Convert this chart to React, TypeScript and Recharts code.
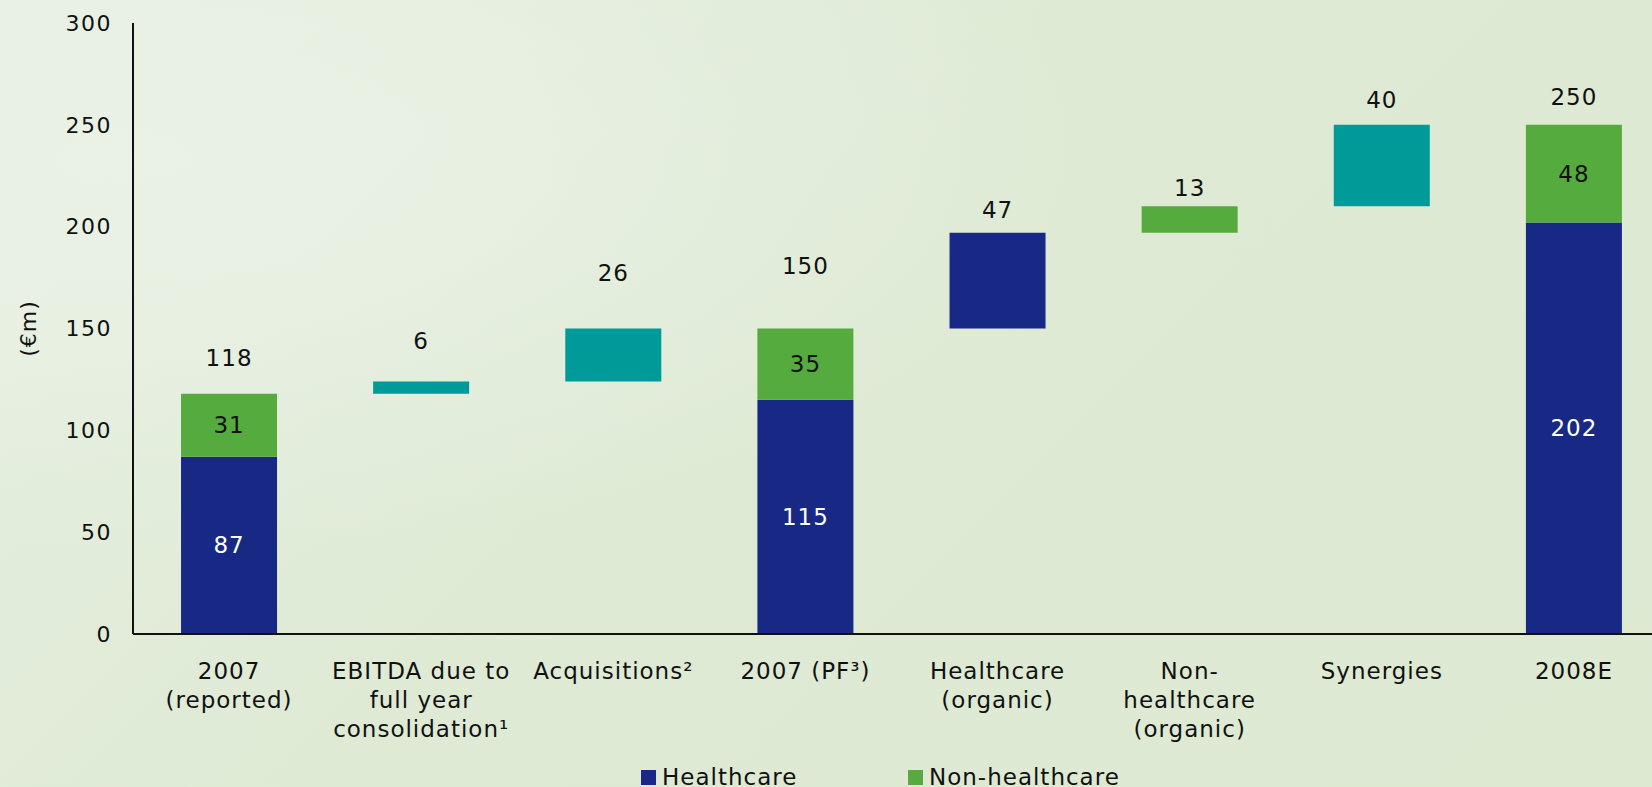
import React from 'react';
import { ComposedChart, Bar, Line, XAxis, YAxis, LabelList, Label } from 'recharts';

const categories = [
  '2007\n(reported)',
  'EBITDA due to\nfull year\nconsolidation¹',
  'Acquisitions²',
  '2007 (PF³)',
  'Healthcare\n(organic)',
  'Non-\nhealthcare\n(organic)',
  'Synergies',
  '2008E',
];
const offsetBase = [0, 118, 124, 0, 150, 197, 210, 0];
const healthcare = [87, null, null, 115, 47, null, null, 202];
const nonHealthcare = [31, null, null, 35, null, 13, null, 48];
const bridge = [null, 6, 26, null, null, null, 40, null];
const topLabels = ['118', '6', '26', '150', '47', '13', '40', '250'];
const isTotal = [true, false, false, true, false, false, false, true];
const yTicks = [0, 50, 100, 150, 200, 250, 300];

// layout only: pixel lift of each top label above its bar
const labelLift = [36, 41, 56, 63, 23, 18, 25, 28];

const NAVY = '#172985';
const GREEN = '#55ab3e';
const TEAL = '#009a98';
const FONT = '"DejaVu Sans", Verdana, sans-serif';

const data = categories.map((name, i) => ({
  name,
  base: offsetBase[i],
  hc: healthcare[i],
  nhc: nonHealthcare[i],
  bridge: bridge[i],
  hcLabel: isTotal[i] ? healthcare[i] : null,
  nhcLabel: isTotal[i] ? nonHealthcare[i] : null,
  stackTop: offsetBase[i] + (healthcare[i] ?? 0) + (nonHealthcare[i] ?? 0) + (bridge[i] ?? 0),
  topLabel: topLabels[i],
  lift: labelLift[i],
}));

const XTick = (props: any) => {
  const { x, y, payload } = props;
  const lines = String(payload.value).split('\n');
  return (
    <g>
      {lines.map((l: string, i: number) => (
        <text
          key={i}
          x={x}
          y={y + 37 + i * 29}
          dy="0.35em"
          textAnchor="middle"
          fill="#111"
          fontSize={23}
          letterSpacing={1}
          fontFamily={FONT}
        >
          {l}
        </text>
      ))}
    </g>
  );
};

const TopLabel = (props: any) => {
  const { x, y, index } = props;
  return (
    <text
      x={Number(x)}
      y={Number(y) - labelLift[index]}
      dy="0.35em"
      textAnchor="middle"
      fill="#111"
      fontSize={23}
      letterSpacing={1}
      fontFamily={FONT}
    >
      {topLabels[index]}
    </text>
  );
};

const makeInner = (color: string) => (props: any) => {
  const { x, y, width, height, value } = props;
  if (value == null || value === '') return null;
  return (
    <text
      x={Number(x) + Number(width) / 2}
      y={Number(y) + Number(height) / 2}
      dy="0.35em"
      textAnchor="middle"
      fill={color}
      fontSize={23}
      letterSpacing={1}
      fontFamily={FONT}
    >
      {value}
    </text>
  );
};

const YLabel = (props: any) => {
  const vb = props.viewBox || { x: 0, y: 23, width: 133, height: 611 };
  const cx = vb.x + 28;
  const cy = vb.y + vb.height / 2;
  return (
    <text
      x={cx}
      y={cy}
      dy="0.35em"
      textAnchor="middle"
      transform={`rotate(-90 ${cx} ${cy})`}
      fill="#111"
      fontSize={22}
      letterSpacing={1}
      fontFamily={FONT}
    >
      (€m)
    </text>
  );
};

const legendItems = [
  { label: 'Healthcare', color: NAVY },
  { label: 'Non-healthcare', color: GREEN },
];

export default function App() {
  return (
    <div
      style={{
        position: 'absolute',
        left: 0,
        top: 0,
        width: 1652,
        height: 787,
        overflow: 'hidden',
        background:
          'radial-gradient(ellipse at 8% 20%, #eaf2e6 0%, rgba(234,242,230,0) 45%), linear-gradient(135deg, #e6efe0 0%, #dfead5 45%, #dde9d1 100%)',
        fontFamily: FONT,
      }}
    >
      <ComposedChart
        width={1700}
        height={787}
        data={data}
        margin={{ top: 23, right: 30, bottom: 0, left: 0 }}
        barCategoryGap="25%"
      >
        <XAxis
          dataKey="name"
          height={153}
          interval={0}
          tickLine={false}
          tickSize={0}
          tickMargin={0}
          axisLine={{ stroke: '#111', strokeWidth: 2 }}
          tick={<XTick />}
        />
        <YAxis
          width={133}
          domain={[0, 300]}
          ticks={yTicks}
          interval={0}
          tickLine={false}
          tickSize={0}
          tickMargin={21}
          axisLine={{ stroke: '#111', strokeWidth: 2 }}
          tick={{ fontSize: 22, fill: '#111', fontFamily: FONT, letterSpacing: 1.5 }}
        >
          <Label content={<YLabel />} />
        </YAxis>
        <Bar dataKey="base" stackId="w" fill="transparent" isAnimationActive={false} />
        <Bar dataKey="hc" stackId="w" fill={NAVY} isAnimationActive={false}>
          <LabelList dataKey="hcLabel" content={makeInner('#ffffff')} />
        </Bar>
        <Bar dataKey="nhc" stackId="w" fill={GREEN} isAnimationActive={false}>
          <LabelList dataKey="nhcLabel" content={makeInner('#111111')} />
        </Bar>
        <Bar dataKey="bridge" stackId="w" fill={TEAL} isAnimationActive={false} />
        <Line
          dataKey="stackTop"
          stroke="none"
          dot={false}
          activeDot={false}
          legendType="none"
          isAnimationActive={false}
        >
          <LabelList dataKey="topLabel" content={<TopLabel />} />
        </Line>
      </ComposedChart>
      <div
        style={{
          position: 'absolute',
          left: 641,
          top: 763,
          display: 'flex',
          alignItems: 'center',
          height: 28,
        }}
      >
        {legendItems.map((it, i) => (
          <div
            key={it.label}
            style={{ display: 'flex', alignItems: 'center', width: i === 0 ? 267 : 'auto' }}
          >
            <span
              style={{ display: 'inline-block', width: 15, height: 15, background: it.color, marginRight: 6 }}
            />
            <span style={{ fontSize: 23, letterSpacing: 1, color: '#111', fontFamily: FONT, lineHeight: '28px' }}>
              {it.label}
            </span>
          </div>
        ))}
      </div>
    </div>
  );
}
